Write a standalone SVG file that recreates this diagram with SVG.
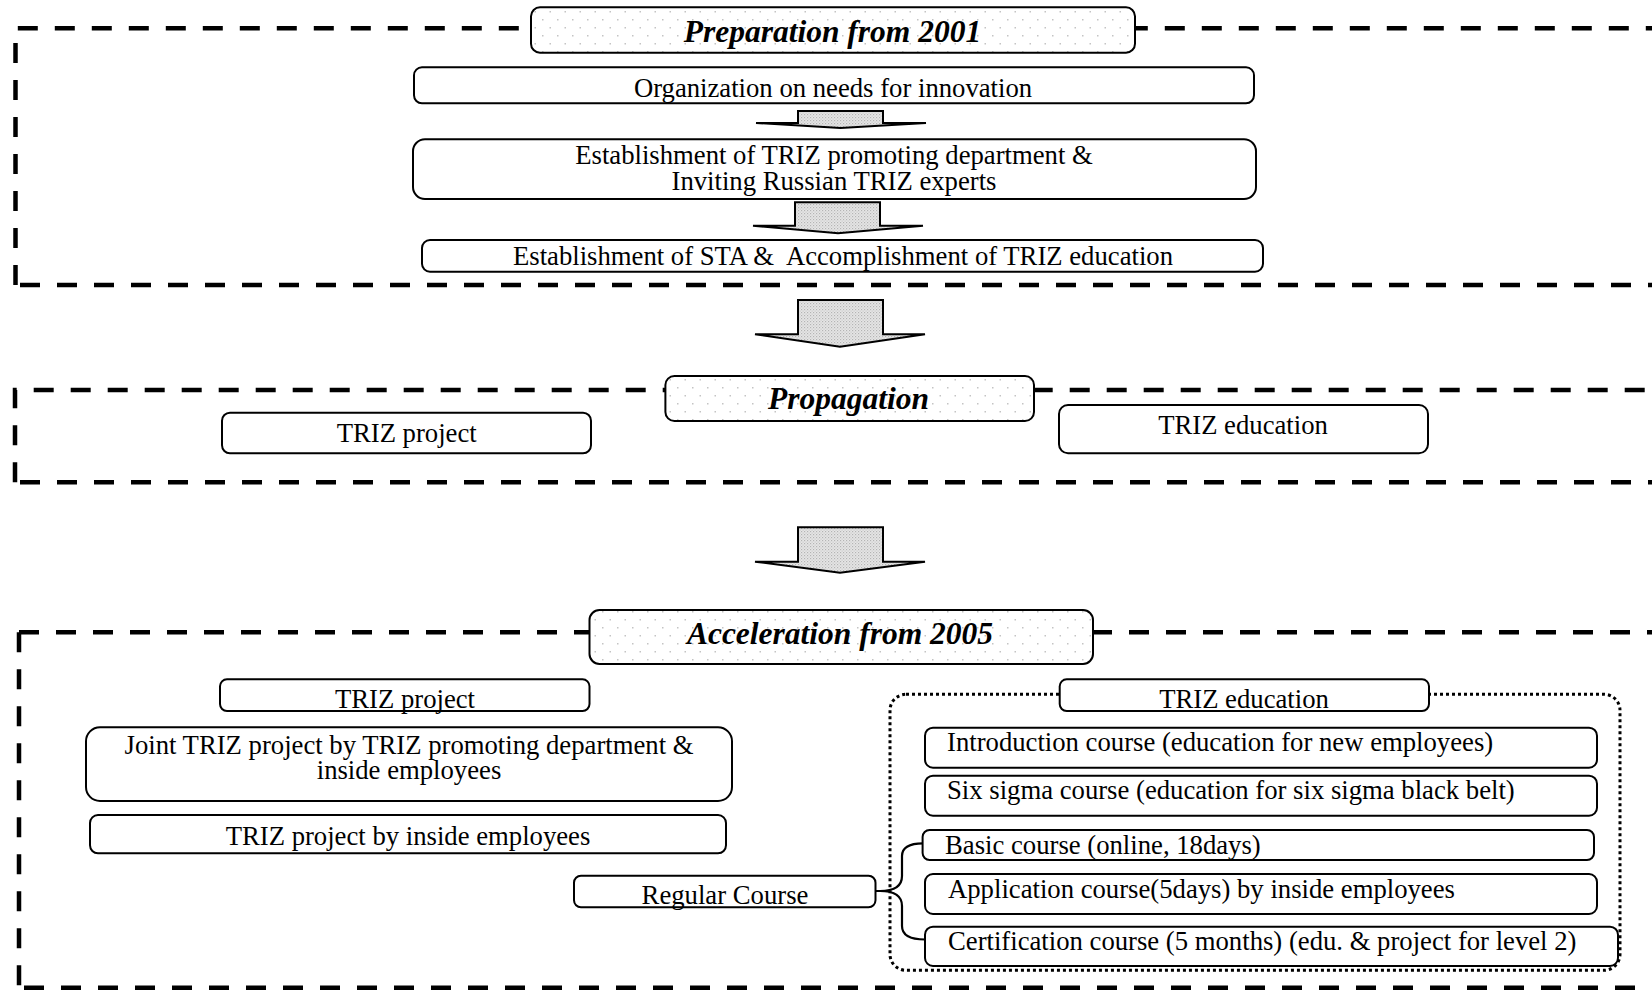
<svg xmlns="http://www.w3.org/2000/svg" width="1652" height="990" viewBox="0 0 1652 990">
<defs>
<pattern id="dots" x="0" y="0" width="15" height="16" patternUnits="userSpaceOnUse">
<rect width="15" height="16" fill="#ffffff"/>
<rect x="2" y="3" width="1.5" height="1.5" fill="#c4c4c4"/>
<rect x="9.5" y="11" width="1.5" height="1.5" fill="#c4c4c4"/>
</pattern>
<pattern id="stip" x="0" y="0" width="3" height="3" patternUnits="userSpaceOnUse">
<rect width="3" height="3" fill="#e6e6e6"/>
<rect x="0" y="0" width="1.2" height="1.2" fill="#b4b4b4"/>
<rect x="1.5" y="1.5" width="1.2" height="1.2" fill="#c8c8c8"/>
</pattern>
<style>
.frame{fill:none;stroke:#000;stroke-width:4.5;stroke-dasharray:20 17}
.box{fill:#fff;stroke:#000;stroke-width:2}
.title{fill:url(#dots);stroke:#000;stroke-width:2}
.arrow{fill:url(#stip);stroke:#000;stroke-width:2;stroke-linejoin:miter}
.t{font-family:"Liberation Serif","Times New Roman",serif;font-size:26.7px;fill:#000}
.c{text-anchor:middle}
.h{font-family:"Liberation Serif","Times New Roman",serif;font-size:31.5px;font-weight:bold;font-style:italic;text-anchor:middle;fill:#000}
.dot{fill:none;stroke:#000;stroke-width:3;stroke-dasharray:3 3}
.brace{fill:none;stroke:#000;stroke-width:2.2}
</style>
</defs>

<g id="frames">
<path class="frame" d="M15.5,285 V28.3 H1660"/>
<path class="frame" d="M20,285 H1660"/>
<path class="frame" d="M15,482.3 V390 H1660"/>
<path class="frame" d="M20,482.3 H1660"/>
<path class="frame" d="M19,632.3 H1660"/>
<path class="frame" d="M19,632.3 V987.7"/>
<path class="frame" d="M24,987.7 H1660"/>
</g>

<g id="edu-container">
<rect class="dot" x="890" y="694.3" width="730" height="276" rx="16"/>
</g>

<g id="connectors">
<polygon class="arrow" points="798,111 883,111 883,123 926,123 840.5,128 756,123 798,123"/>
<polygon class="arrow" points="795,202.3 880,202.3 880,225.7 923,225.7 838,233.3 753,225.7 795,225.7"/>
<polygon class="arrow" points="798,300 883,300 883,334.3 925,334.3 840,346.7 755,334.3 798,334.3"/>
<polygon class="arrow" points="798,527.3 883,527.3 883,561.7 925,561.7 840,572.7 755,561.7 798,561.7"/>
<path class="brace" d="M875.5,891 H880 Q902,891 902,876 V856 Q902,843.3 923,843.3"/>
<path class="brace" d="M880,891 Q902,891 902,906 V926 Q902,939.5 925,939.5"/>
</g>

<g id="title-prep">
<rect class="title" x="531" y="7.3" width="604" height="45.4" rx="9"/>
<text class="h" x="832.5" y="41.7">Preparation from 2001</text>
</g>
<g id="org-needs">
<rect class="box" x="414" y="67.3" width="840" height="36" rx="8"/>
<text class="t c" x="833" y="96.5">Organization on needs for innovation</text>
</g>
<g id="establish-triz">
<rect class="box" x="413" y="139.3" width="843" height="59.7" rx="12"/>
<text class="t c" x="834" y="164">Establishment of TRIZ promoting department &amp;</text>
<text class="t c" x="834" y="190">Inviting Russian TRIZ experts</text>
</g>
<g id="establish-sta">
<rect class="box" x="422" y="240" width="841" height="31.7" rx="8"/>
<text class="t c" x="843" y="264.5" xml:space="preserve">Establishment of STA &amp;  Accomplishment of TRIZ education</text>
</g>

<g id="title-prop">
<rect class="title" x="665.4" y="376" width="368.6" height="45" rx="9"/>
<text class="h" x="848.5" y="409">Propagation</text>
</g>
<g id="prop-project">
<rect class="box" x="222" y="412.7" width="369" height="40.6" rx="8"/>
<text class="t c" x="406.7" y="442">TRIZ project</text>
</g>
<g id="prop-education">
<rect class="box" x="1059" y="405" width="369" height="48.3" rx="9"/>
<text class="t c" x="1243" y="434">TRIZ education</text>
</g>

<g id="title-acc">
<rect class="title" x="589.5" y="610" width="503.5" height="54" rx="10"/>
<text class="h" x="840" y="644">Acceleration from 2005</text>
</g>
<g id="acc-project">
<rect class="box" x="220" y="679.3" width="369.5" height="31.7" rx="7"/>
<text class="t c" x="405" y="708">TRIZ project</text>
</g>
<g id="joint-project">
<rect class="box" x="86" y="727.3" width="646" height="73.7" rx="14"/>
<text class="t c" x="409" y="753.5">Joint TRIZ project by TRIZ promoting department &amp;</text>
<text class="t c" x="409" y="779">inside employees</text>
</g>
<g id="inside-project">
<rect class="box" x="90" y="815" width="636" height="38.3" rx="8"/>
<text class="t c" x="408" y="844.5">TRIZ project by inside employees</text>
</g>
<g id="regular-course">
<rect class="box" x="574" y="875.7" width="301.5" height="31.6" rx="7"/>
<text class="t c" x="725" y="903.5">Regular Course</text>
</g>
<g id="acc-education">
<rect class="box" x="1059.7" y="679.3" width="369.3" height="31.7" rx="7"/>
<text class="t c" x="1244" y="708">TRIZ education</text>
</g>
<g id="intro-course">
<rect class="box" x="925" y="727.7" width="672" height="40" rx="8"/>
<text class="t" x="947" y="751">Introduction course (education for new employees)</text>
</g>
<g id="sixsigma-course">
<rect class="box" x="925" y="775.7" width="672" height="40" rx="8"/>
<text class="t" x="947" y="799">Six sigma course (education for six sigma black belt)</text>
</g>
<g id="basic-course">
<rect class="box" x="922.6" y="830" width="671.4" height="30" rx="7"/>
<text class="t" x="945" y="854">Basic course (online, 18days)</text>
</g>
<g id="application-course">
<rect class="box" x="925" y="874" width="672" height="40" rx="8"/>
<text class="t" x="948" y="898">Application course(5days) by inside employees</text>
</g>
<g id="certification-course">
<rect class="box" x="925" y="926.7" width="693" height="39.3" rx="8"/>
<text class="t" x="948" y="950">Certification course (5 months) (edu. &amp; project for level 2)</text>
</g>
</svg>
